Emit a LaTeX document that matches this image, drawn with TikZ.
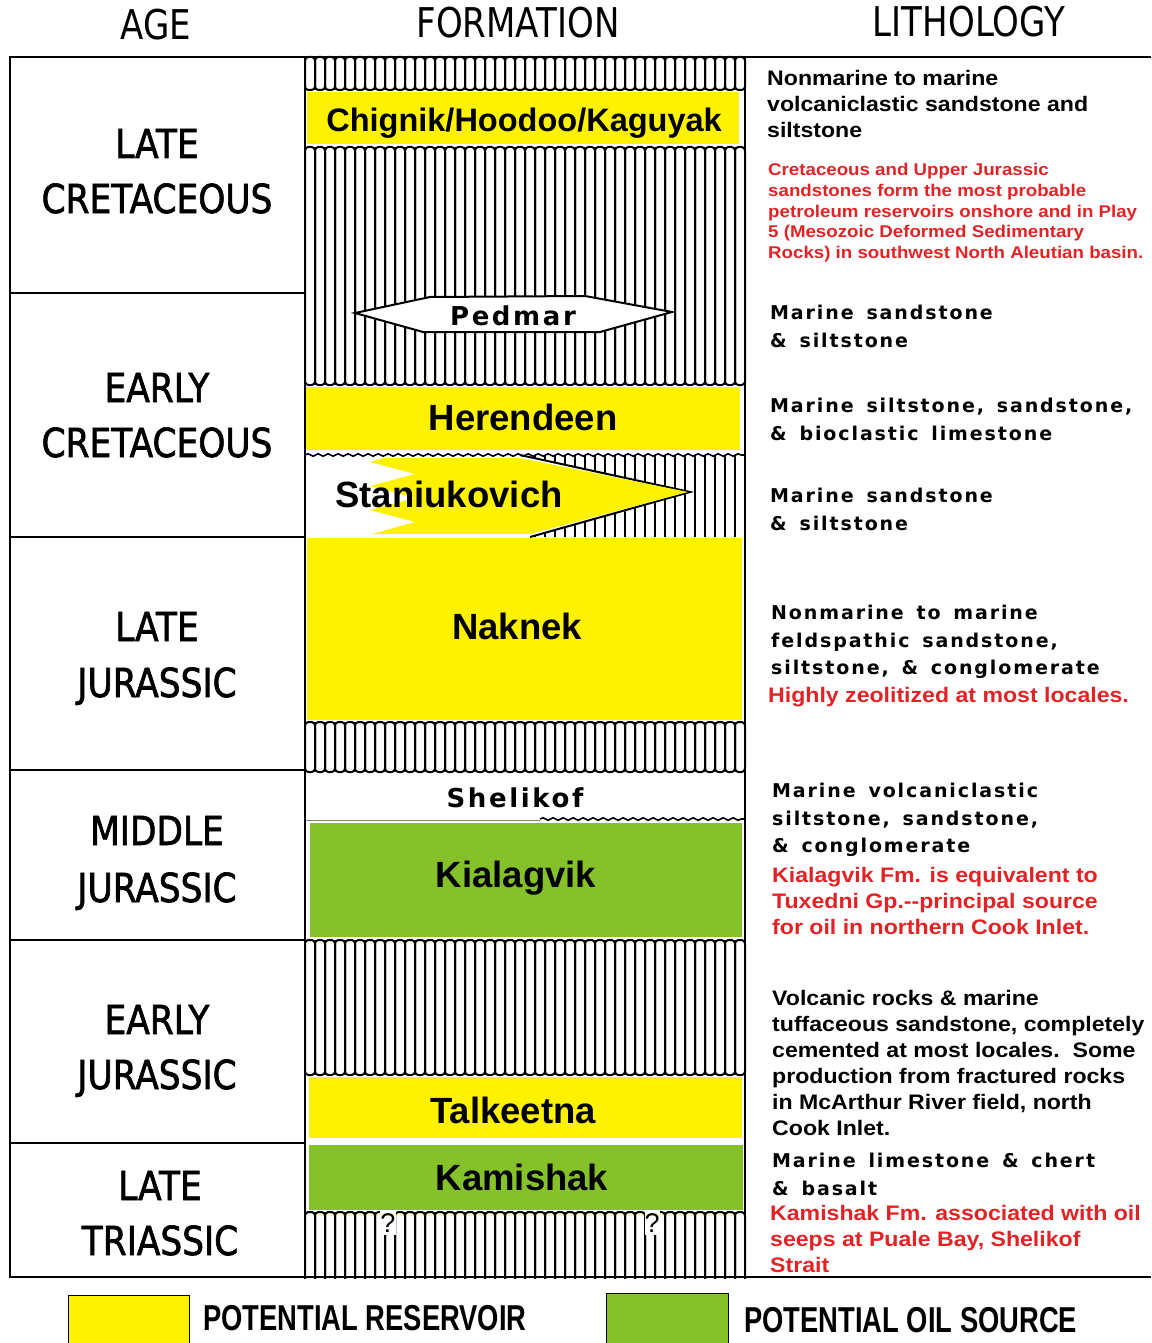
\documentclass[tikz,border=0pt]{standalone}
\usepackage{fontspec}
\setmainfont{Liberation Sans}
\newfontfamily\agefont[FakeStretch=0.86,FakeBold=1.6]{DejaVu Sans}
\newfontfamily\headfont[FakeStretch=0.83]{DejaVu Sans}
\newfontfamily\leroyfont[LetterSpace=10,WordSpace=1.5]{DejaVu Sans}
\newfontfamily\litfont[FakeStretch=1.1]{Liberation Sans}
\newfontfamily\legfont[FakeStretch=0.76]{Liberation Sans}
\usepackage{tikz}
\usetikzlibrary{decorations.pathmorphing,positioning}

\definecolor{resyellow}{RGB}{255,242,0}
\definecolor{srcgreen}{RGB}{133,193,40}
\definecolor{notered}{RGB}{226,35,38}

\tikzset{
  frame/.style={line width=2.6pt},
  cell/.style={line width=2pt, rounded corners=3.5pt},
  wavy/.style={line width=1.6pt, decorate, decoration={snake, amplitude=1.2pt, segment length=10pt}},
  head/.style={anchor=base, inner sep=0pt, font=\headfont\fontsize{41}{41}\selectfont},
  age/.style={anchor=base, inner sep=0pt, font=\agefont\fontsize{40}{40}\selectfont},
  fm/.style={anchor=base, inner sep=0pt, font=\bfseries\fontsize{36.5}{36.5}\selectfont},
  fmlr/.style={anchor=base, inner sep=0pt, font=\leroyfont\bfseries\fontsize{26}{26}\selectfont},
  leroy/.style={anchor=north west, inner sep=0pt, align=left, font=\leroyfont\bfseries\fontsize{19}{27.5}\selectfont},
  litblk/.style={anchor=north west, inner sep=0pt, align=left, font=\litfont\bfseries\fontsize{21}{26}\selectfont},
  litred/.style={litblk, text=notered},
  qmark/.style={fill=white, inner sep=0pt, minimum width=14pt, minimum height=24pt, font=\fontsize{27}{27}\selectfont},
  legtxt/.style={anchor=base west, inner sep=0pt, font=\legfont\bfseries\fontsize{36}{36}\selectfont}
}

\begin{document}
\begin{tikzpicture}[x=1pt, y=-1pt]
    \useasboundingbox (0,0) rectangle (1151,1343);

    % hatched bands of the formation column
    \foreach \i in {0,...,43} {
        \draw[cell] ({305+\i*10},57) rectangle ({315+\i*10},90);
        \draw[cell] ({305+\i*10},147) rectangle ({315+\i*10},385);
        \draw[cell] ({305+\i*10},722) rectangle ({315+\i*10},772);
        \draw[cell] ({305+\i*10},940) rectangle ({315+\i*10},1075);
        \draw[cell] ({305+\i*10},1212) rectangle ({315+\i*10},1290);
    }
    \begin{scope}
        \clip (520,455) -- (745,455) -- (745,537) -- (530,537) -- (690,492) -- cycle;
        \foreach \i in {0,...,44}
            \draw[line width=2pt] ({305+\i*10},450) -- ({305+\i*10},540);
    \end{scope}
    \draw[line width=2pt] (520,455) -- (690,492) -- (530,537);
    \draw[wavy] (305,455) -- (745,455);
    \draw[wavy] (540,819) -- (745,819);
    \draw[line width=1pt, gray] (305,820) -- (540,820);

    % Pedmar lens
    \draw[line width=2pt, fill=white] (355,313) -- (430,297) -- (585,296) -- (672,312) -- (600,332) -- (423,332) -- cycle;

    % units
    \fill[resyellow] (307,92) rectangle (739,144);
    \fill[resyellow] (306,387) rectangle (740,450);
    \fill[resyellow] (383,458) -- (520,458) -- (688,492) -- (530,534) -- (372,534) -- (415,522)
        -- (370,510) -- (415,498) -- (370,486) -- (415,474) -- (370,462) -- cycle;
    \fill[resyellow] (307,538) rectangle (742,720);
    \fill[srcgreen] (310,823) rectangle (742,937);
    \fill[resyellow] (309,1077) rectangle (742,1138);
    \fill[srcgreen] (309,1145) rectangle (743,1210);

    % frame
    \fill[white] (0,1279) rectangle (1151,1343);
    \draw[frame] (1151,57) -- (10,57) -- (10,1277) -- (1151,1277);
    \draw[frame] (305,57) -- (305,1277);
    \draw[frame] (745,57) -- (745,1277);
    \foreach \y in {293,537,770,940,1143}
        \draw[frame] (10,\y) -- (305,\y);

    \node[qmark] (q1) at (388,1223) {?};
    \node[qmark] (q2) at (652,1223) {?};

    % headings
    \node[head] (hage) at (156,40) {AGE};
    \node[head] (hform) at (518,38) {FORMATION};
    \node[head] (hlith) at (969,37) {LITHOLOGY};

    % ages
    \node[age] (lk1) at (157,158) {LATE};
    \node[age] (lk2) at (157,213) {CRETACEOUS};
    \node[age] (ek1) at (157,402) {EARLY};
    \node[age] (ek2) at (157,457) {CRETACEOUS};
    \node[age] (lj1) at (157,641) {LATE};
    \node[age] (lj2) at (157,697) {JURASSIC};
    \node[age] (mj1) at (157,845) {MIDDLE};
    \node[age] (mj2) at (157,902) {JURASSIC};
    \node[age] (ej1) at (157,1034) {EARLY};
    \node[age] (ej2) at (157,1089) {JURASSIC};
    \node[age] (lt1) at (160,1200) {LATE};
    \node[age] (lt2) at (160,1255) {TRIASSIC};

    % formations
    \node[fm, font=\bfseries\fontsize{32.5}{32.5}\selectfont] (chig) at (524,132) {Chignik/Hoodoo/Kaguyak};
    \node[fmlr] (pedm) at (513,325) {Pedmar};
    \node[fm] (here) at (523,430) {Herendeen};
    \node[fm] (stan) at (449,507) {Staniukovich};
    \node[fm] (nakn) at (517,639) {Naknek};
    \node[fmlr] (shel) at (515,807) {Shelikof};
    \node[fm] (kial) at (516,887) {Kialagvik};
    \node[fm] (talk) at (513,1123) {Talkeetna};
    \node[fm] (kami) at (522,1190) {Kamishak};

    % lithology
    \node[litblk] (lit1) at (767,70) {Nonmarine to marine\\volcaniclastic sandstone and\\siltstone};
    \node[litred, font=\litfont\bfseries\fontsize{17}{20.8}\selectfont] (note1) at (768,163) {Cretaceous and Upper Jurassic\\sandstones form the most probable\\petroleum reservoirs onshore and in Play\\5 (Mesozoic Deformed Sedimentary\\Rocks) in southwest North Aleutian basin.};
    \node[leroy] (lit2) at (770,305) {Marine sandstone\\\& siltstone};
    \node[leroy] (lit3) at (770,398) {Marine siltstone, sandstone,\\\& bioclastic limestone};
    \node[leroy] (lit4) at (770,488) {Marine sandstone\\\& siltstone};
    \node[leroy] (lit5) at (771,605) {Nonmarine to marine\\feldspathic sandstone,\\siltstone, \& conglomerate};
    \node[litred] (note2) at (768,687) {Highly zeolitized at most locales.};
    \node[leroy] (lit6) at (772,783) {Marine volcaniclastic\\siltstone, sandstone,\\\& conglomerate};
    \node[litred] (note3) at (772,867) {Kialagvik Fm. is equivalent to\\Tuxedni Gp.-{}-principal source\\for oil in northern Cook Inlet.};
    \node[litblk] (lit7) at (772,990) {Volcanic rocks \& marine\\tuffaceous sandstone, completely\\cemented at most locales.\ \ Some\\production from fractured rocks\\in McArthur River field, north\\Cook Inlet.};
    \node[leroy] (lit8) at (772,1153) {Marine limestone \& chert\\\& basalt};
    \node[litred] (note4) at (770,1205) {Kamishak Fm. associated with oil\\seeps at Puale Bay, Shelikof\\Strait};

    % legend
    \draw[line width=0.8pt, fill=resyellow] (68,1295) rectangle (189,1346);
    \draw[line width=0.8pt, fill=srcgreen] (606,1293) rectangle (728,1346);
    \node[legtxt] (lres) at (203,1330) {POTENTIAL RESERVOIR};
    \node[legtxt] (lsrc) at (744,1332) {POTENTIAL OIL SOURCE};
\end{tikzpicture}
\end{document}
